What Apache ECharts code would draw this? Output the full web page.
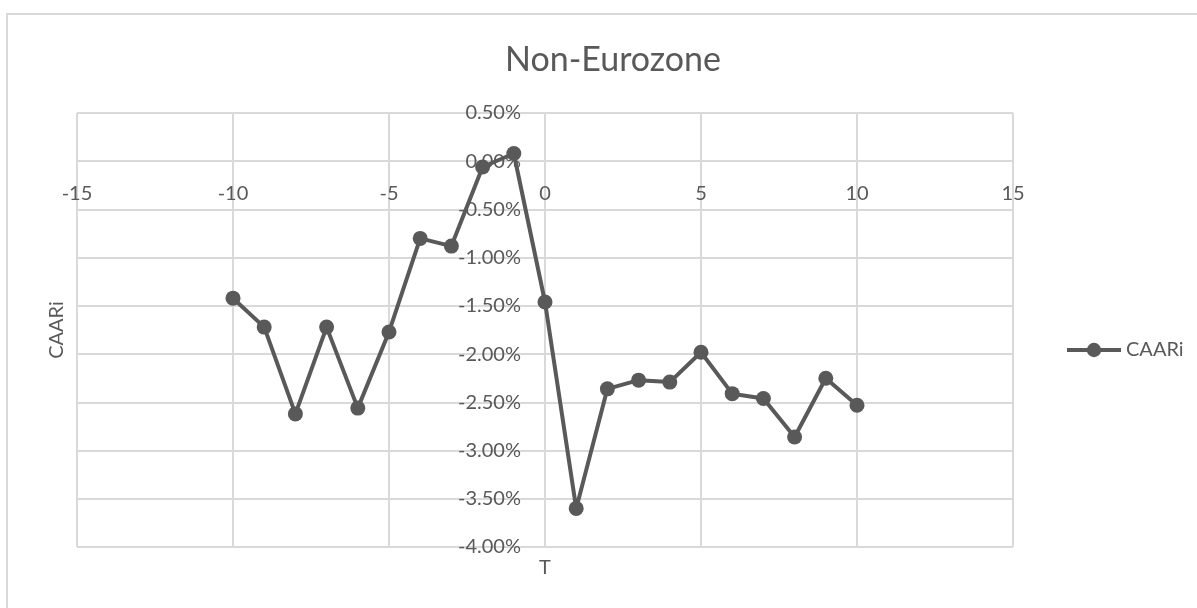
<!DOCTYPE html>
<html>
<head>
<meta charset="utf-8">
<script src="https://cdn.jsdelivr.net/npm/echarts@6/dist/echarts.min.js"></script>
<style>
  html, body { margin: 0; padding: 0; background: #fff; }
  #chart { width: 1197px; height: 608px; }
</style>
</head>
<body>
<div id="chart"></div>
<script>
// Event window (days relative to the announcement)
const eventDays = [-10, -9, -8, -7, -6, -5, -4, -3, -2, -1, 0, 1, 2, 3, 4, 5, 6, 7, 8, 9, 10];
// Cumulative average abnormal returns, in percent
const caarValues = [-1.42, -1.72, -2.62, -1.72, -2.56, -1.77, -0.80, -0.88, -0.06, 0.08, -1.46,
                    -3.60, -2.36, -2.27, -2.29, -1.98, -2.41, -2.46, -2.86, -2.25, -2.53];
// Axis ranges and steps
const xRange = { min: -15, max: 15, step: 5 };
const yRange = { min: -4, max: 0.5, step: 0.5 };

const textColor = '#595959';
const gridColor = '#d9d9d9';
const fontFamily = 'Lato, "Open Sans", sans-serif';

const W = 1197, H = 608;
const grid = { left: 77, right: 184, top: 113, bottom: 61 };
const plotW = W - grid.left - grid.right;
const plotH = H - grid.top - grid.bottom;

// Both axes cross at the origin: shift each one from its default edge to the other's zero
const yAxisShift = -((0 - xRange.min) / (xRange.max - xRange.min)) * plotW;
const xAxisShift = -((0 - yRange.min) / (yRange.max - yRange.min)) * plotH;

const chart = echarts.init(document.getElementById('chart'), null, { renderer: 'canvas' });

chart.setOption({
  animation: false,
  backgroundColor: '#ffffff',
  textStyle: { fontFamily: fontFamily, color: textColor },
  title: {
    text: 'Non-Eurozone',
    left: 608,
    top: 38,
    textAlign: 'center',
    textStyle: { fontFamily: fontFamily, fontSize: 34, fontWeight: 'normal', color: textColor }
  },
  legend: {
    data: ['CAARi'],
    left: 1065,
    top: 340,
    padding: 0,
    orient: 'vertical',
    itemWidth: 54,
    itemHeight: 18,
    itemGap: 5,
    lineStyle: { width: 4 },
    textStyle: { fontFamily: fontFamily, fontSize: 20, color: textColor }
  },
  graphic: [
    {
      type: 'rect',
      shape: { x: 7, y: 14, width: 1300, height: 800 },
      style: { fill: 'none', stroke: gridColor, lineWidth: 2 },
      silent: true,
      z: -1
    },
    {
      type: 'text',
      x: 57,
      y: grid.top + plotH / 2,
      rotation: Math.PI / 2,
      style: {
        text: 'CAARi', fill: textColor, font: '20px ' + fontFamily,
        align: 'center', verticalAlign: 'middle'
      },
      silent: true
    },
    {
      type: 'text',
      x: grid.left + plotW / 2,
      y: 568,
      style: {
        text: 'T', fill: textColor, font: '20px ' + fontFamily,
        align: 'center', verticalAlign: 'middle'
      },
      silent: true
    }
  ],
  grid: Object.assign({ outerBoundsMode: 'none', containLabel: false }, grid),
  xAxis: {
    type: 'value',
    min: xRange.min,
    max: xRange.max,
    interval: xRange.step,
    offset: xAxisShift,
    axisLine: { show: true, onZero: false, lineStyle: { color: gridColor, width: 2 } },
    axisTick: { show: false },
    axisLabel: { color: textColor, fontSize: 20, fontFamily: fontFamily, margin: 22 },
    splitLine: { show: true, lineStyle: { color: gridColor, width: 2 } }
  },
  yAxis: {
    type: 'value',
    min: yRange.min,
    max: yRange.max,
    interval: yRange.step,
    offset: yAxisShift,
    axisLine: { show: true, onZero: false, lineStyle: { color: gridColor, width: 2 } },
    axisTick: { show: false },
    axisLabel: {
      color: textColor, fontSize: 20, fontFamily: fontFamily, margin: 24,
      formatter: v => v.toFixed(2) + '%'
    },
    splitLine: { show: true, lineStyle: { color: gridColor, width: 2 } }
  },
  series: [{
    name: 'CAARi',
    type: 'line',
    data: eventDays.map((d, i) => [d, caarValues[i]]),
    symbol: 'circle',
    symbolSize: 15,
    showAllSymbol: true,
    lineStyle: { color: textColor, width: 4 },
    itemStyle: { color: textColor },
    z: 5
  }]
});
</script>
</body>
</html>
